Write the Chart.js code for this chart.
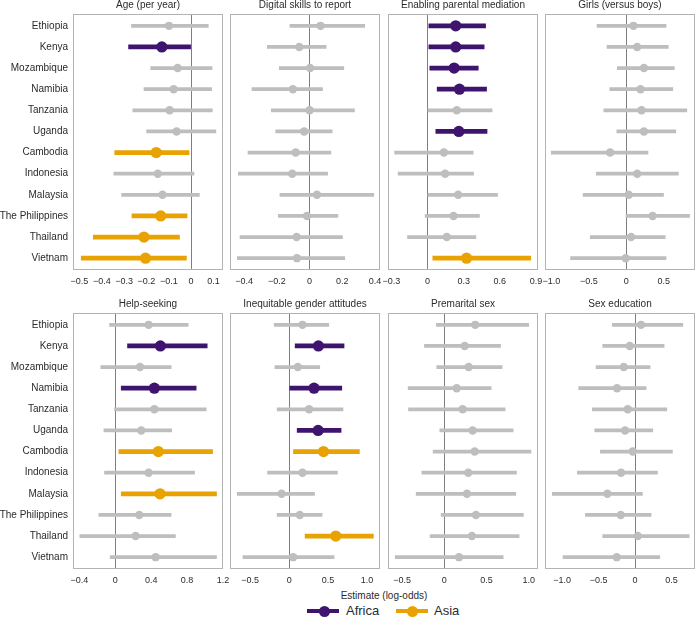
<!DOCTYPE html>
<html>
<head>
<meta charset="utf-8">
<script src="https://cdn.jsdelivr.net/npm/chart.js@4"></script>
<style>
  body { margin: 0; background: #fff; width: 696px; height: 626px; position: relative; overflow: hidden;
         font-family: "Liberation Sans", Arial, sans-serif; color: #2b2b2b; }
  canvas { position: absolute; }
  #xlabel { position: absolute; left: 284px; width: 200px; top: 590px; font-size: 10px; line-height: 12px; text-align: center; }
  .key { position: absolute; top: 609px; width: 32px; height: 4px; }
  .dot { position: absolute; top: 605.5px; width: 11px; height: 11px; border-radius: 50%; }
  .lab { position: absolute; top: 603px; font-size: 13px; line-height: 16px; }
</style>
</head>
<body>
<div id="xlabel">Estimate (log-odds)</div>
<div class="key" style="left:307px;background:#3E146E"></div>
<div class="dot" style="left:318.5px;background:#3E146E"></div>
<div class="lab" style="left:346px">Africa</div>
<div class="key" style="left:396px;background:#E8A202"></div>
<div class="dot" style="left:406.5px;background:#E8A202"></div>
<div class="lab" style="left:434px">Asia</div>

<script>
// Pays et régions
const countries = ['Ethiopia', 'Kenya', 'Mozambique', 'Namibia', 'Tanzania', 'Uganda',
  'Cambodia', 'Indonesia', 'Malaysia', 'The Philippines', 'Thailand', 'Vietnam'];
const regions = ['Africa', 'Africa', 'Africa', 'Africa', 'Africa', 'Africa',
  'Asia', 'Asia', 'Asia', 'Asia', 'Asia', 'Asia'];

// Age (per year)
const ageEst = [-0.099, -0.131, -0.060, -0.078, -0.096, -0.065, -0.156, -0.149, -0.128, -0.136, -0.211, -0.204];
const ageLow = [-0.267, -0.280, -0.181, -0.211, -0.261, -0.199, -0.342, -0.346, -0.311, -0.265, -0.438, -0.492];
const ageHigh = [0.077, 0.000, 0.094, 0.092, 0.095, 0.111, -0.009, 0.013, 0.037, -0.018, -0.052, -0.021];
const ageSig = [0, 1, 0, 0, 0, 0, 1, 0, 0, 1, 1, 1];
const ageTicks = [-0.5, -0.4, -0.3, -0.2, -0.1, 0, 0.1];

// Digital skills to report
const digitalEst = [0.067, -0.063, 0.003, -0.102, 0.000, -0.033, -0.085, -0.106, 0.045, -0.016, -0.079, -0.077];
const digitalLow = [-0.120, -0.258, -0.185, -0.352, -0.234, -0.207, -0.376, -0.435, -0.181, -0.191, -0.425, -0.441];
const digitalHigh = [0.337, 0.101, 0.209, 0.079, 0.274, 0.138, 0.130, 0.110, 0.392, 0.173, 0.201, 0.215];
const digitalSig = [0, 0, 0, 0, 0, 0, 0, 0, 0, 0, 0, 0];
const digitalTicks = [-0.4, -0.2, 0, 0.2, 0.4];

// Enabling parental mediation
const parentalEst = [0.234, 0.234, 0.221, 0.265, 0.243, 0.260, 0.136, 0.146, 0.254, 0.216, 0.160, 0.324];
const parentalLow = [0.011, 0.011, 0.019, 0.080, 0.000, 0.069, -0.273, -0.244, 0.000, -0.020, -0.166, 0.044];
const parentalHigh = [0.482, 0.470, 0.421, 0.490, 0.536, 0.494, 0.379, 0.382, 0.581, 0.431, 0.401, 0.857];
const parentalSig = [1, 1, 1, 1, 0, 1, 0, 0, 0, 0, 0, 1];
const parentalTicks = [-0.3, 0, 0.3, 0.6, 0.9];

// Girls (versus boys)
const girlsEst = [0.095, 0.145, 0.235, 0.190, 0.203, 0.235, -0.216, 0.145, 0.032, 0.351, 0.064, -0.008];
const girlsLow = [-0.390, -0.257, -0.120, -0.220, -0.300, -0.126, -1.000, -0.400, -0.576, -0.004, -0.480, -0.743];
const girlsHigh = [0.530, 0.560, 0.640, 0.620, 0.807, 0.660, 0.289, 0.694, 0.496, 0.843, 0.519, 0.530];
const girlsSig = [0, 0, 0, 0, 0, 0, 0, 0, 0, 0, 0, 0];
const girlsTicks = [-1.0, -0.5, 0, 0.5];

// Help-seeking
const helpEst = [0.372, 0.503, 0.276, 0.436, 0.436, 0.290, 0.480, 0.372, 0.499, 0.268, 0.227, 0.450];
const helpLow = [-0.063, 0.137, -0.160, 0.067, -0.007, -0.126, 0.041, -0.119, 0.067, -0.182, -0.394, -0.056];
const helpHigh = [0.812, 1.024, 0.622, 0.901, 1.013, 0.629, 1.084, 0.883, 1.128, 0.622, 0.670, 1.128];
const helpSig = [0, 1, 0, 1, 0, 0, 1, 0, 1, 0, 0, 0];
const helpTicks = [-0.4, 0, 0.4, 0.8, 1.2];

// Inequitable gender attitudes
const genderEst = [0.171, 0.376, 0.111, 0.320, 0.256, 0.372, 0.441, 0.171, -0.097, 0.137, 0.599, 0.051];
const genderLow = [-0.192, 0.077, -0.183, 0.009, -0.154, 0.103, 0.056, -0.277, -0.667, -0.154, 0.205, -0.594];
const genderHigh = [0.509, 0.705, 0.393, 0.676, 0.692, 0.667, 0.902, 0.620, 0.326, 0.423, 1.082, 0.577];
const genderSig = [0, 1, 0, 1, 0, 1, 1, 0, 0, 0, 1, 0];
const genderTicks = [-0.5, 0, 0.5, 1.0];

// Premarital sex
const premaritalEst = [0.366, 0.241, 0.288, 0.146, 0.217, 0.335, 0.359, 0.283, 0.268, 0.374, 0.327, 0.174];
const premaritalLow = [-0.094, -0.236, -0.090, -0.429, -0.425, -0.054, -0.133, -0.267, -0.334, -0.039, -0.169, -0.582];
const premaritalHigh = [1.000, 0.666, 0.685, 0.555, 0.720, 0.815, 1.027, 0.855, 0.847, 0.937, 0.886, 0.697];
const premaritalSig = [0, 0, 0, 0, 0, 0, 0, 0, 0, 0, 0, 0];
const premaritalTicks = [-0.5, 0, 0.5, 1.0];

// Sex education
const sexEdEst = [0.082, -0.073, -0.155, -0.247, -0.100, -0.137, -0.032, -0.192, -0.379, -0.196, 0.037, -0.251];
const sexEdLow = [-0.311, -0.443, -0.534, -0.772, -0.585, -0.552, -0.475, -0.790, -1.133, -0.680, -0.443, -0.986];
const sexEdHigh = [0.653, 0.397, 0.205, 0.151, 0.434, 0.242, 0.511, 0.306, 0.100, 0.219, 0.740, 0.338];
const sexEdSig = [0, 0, 0, 0, 0, 0, 0, 0, 0, 0, 0, 0];
const sexEdTicks = [-1.0, -0.5, 0, 0.5];

const FONT = '"Liberation Sans", Arial, sans-serif';
const TEXT = '#2b2b2b';
const GREY = '#BEBEBE';
const regionColors = { Africa: '#3E146E', Asia: '#E8A202' };

const panels = [
  { title: 'Age (per year)', est: ageEst, low: ageLow, high: ageHigh, sig: ageSig, ticks: ageTicks, min: -0.529, max: 0.143, row: 0, col: 0 },
  { title: 'Digital skills to report', est: digitalEst, low: digitalLow, high: digitalHigh, sig: digitalSig, ticks: digitalTicks, min: -0.486, max: 0.43, row: 0, col: 1 },
  { title: 'Enabling parental mediation', est: parentalEst, low: parentalLow, high: parentalHigh, sig: parentalSig, ticks: parentalTicks, min: -0.328, max: 0.917, row: 0, col: 2 },
  { title: 'Girls (versus boys)', est: girlsEst, low: girlsLow, high: girlsHigh, sig: girlsSig, ticks: girlsTicks, min: -1.084, max: 0.916, row: 0, col: 3 },
  { title: 'Help-seeking', est: helpEst, low: helpLow, high: helpHigh, sig: helpSig, ticks: helpTicks, min: -0.47, max: 1.2, row: 1, col: 0 },
  { title: 'Inequitable gender attitudes', est: genderEst, low: genderLow, high: genderHigh, sig: genderSig, ticks: genderTicks, min: -0.76, max: 1.167, row: 1, col: 1 },
  { title: 'Premarital sex', est: premaritalEst, low: premaritalLow, high: premaritalHigh, sig: premaritalSig, ticks: premaritalTicks, min: -0.668, max: 1.11, row: 1, col: 2 },
  { title: 'Sex education', est: sexEdEst, low: sexEdLow, high: sexEdHigh, sig: sexEdSig, ticks: sexEdTicks, min: -1.233, max: 0.82, row: 1, col: 3 }
];

// Géométrie des panneaux
const boxX = [73, 230, 388, 545];
const boxY = [14, 313];
const BOX_W = 150, BOX_H = 256, PAD = 12, TOP = 16, XAX = 22, YAX = 73;

// Cadre et titre de chaque panneau
const panelFrame = {
  id: 'panelFrame',
  afterDraw(chart, args, opts) {
    const a = chart.chartArea;
    const ctx = chart.ctx;
    ctx.save();
    ctx.strokeStyle = '#B3B3B3';
    ctx.lineWidth = 1;
    ctx.strokeRect(a.left + 0.5, a.top + 0.5, a.right - a.left - 1, a.bottom - a.top - 1);
    ctx.fillStyle = TEXT;
    ctx.font = '10px ' + FONT;
    ctx.textAlign = 'center';
    ctx.textBaseline = 'middle';
    ctx.fillText(opts.text, (a.left + a.right) / 2, a.top - 9);
    ctx.restore();
  }
};

function fmtTick(v) {
  if (v === 0) return '0';
  return v.toFixed(1).replace('-', '\u2212');
}

function makePanel(p) {
  const first = p.col === 0;
  const width = (first ? YAX : PAD) + BOX_W + PAD;
  const height = TOP + BOX_H + XAX;
  const canvas = document.createElement('canvas');
  canvas.width = width;
  canvas.height = height;
  canvas.style.width = width + 'px';
  canvas.style.height = height + 'px';
  canvas.style.left = (first ? 0 : boxX[p.col] - PAD) + 'px';
  canvas.style.top = (boxY[p.row] - TOP) + 'px';
  document.body.appendChild(canvas);

  const rows = countries.map((c, i) => i);
  const plain = rows.filter(i => !p.sig[i]);
  const marked = rows.filter(i => p.sig[i]);

  new Chart(canvas, {
    type: 'bar',
    data: {
      datasets: [
        { type: 'bar', order: 4, grouped: false, barThickness: 3, backgroundColor: GREY,
          data: plain.map(i => ({ x: [p.low[i], p.high[i]], y: i + 1 })) },
        { type: 'scatter', order: 3, pointRadius: 4.2, pointBorderWidth: 0, backgroundColor: GREY,
          data: plain.map(i => ({ x: p.est[i], y: i + 1 })) },
        { type: 'bar', order: 2, grouped: false, barThickness: 4,
          backgroundColor: marked.map(i => regionColors[regions[i]]),
          data: marked.map(i => ({ x: [p.low[i], p.high[i]], y: i + 1 })) },
        { type: 'scatter', order: 1, pointRadius: 5.6, pointBorderWidth: 0,
          backgroundColor: marked.map(i => regionColors[regions[i]]),
          data: marked.map(i => ({ x: p.est[i], y: i + 1 })) }
      ]
    },
    options: {
      indexAxis: 'y',
      responsive: false,
      animation: false,
      events: [],
      layout: { padding: { left: first ? 0 : PAD, right: PAD, top: TOP, bottom: 0 } },
      plugins: {
        legend: { display: false },
        tooltip: { enabled: false },
        panelFrame: { text: p.title }
      },
      scales: {
        x: {
          type: 'linear', min: p.min, max: p.max, offset: false,
          afterBuildTicks: s => { s.ticks = p.ticks.map(v => ({ value: v })); },
          afterFit: s => { s.height = XAX; s.paddingLeft = 0; s.paddingRight = 0; },
          grid: { drawTicks: false, lineWidth: 1, offset: false,
                  color: c => (c.tick && c.tick.value === 0) ? '#7F7F7F' : 'rgba(0,0,0,0)' },
          border: { display: false },
          ticks: { autoSkip: false, maxRotation: 0, padding: 6, color: TEXT,
                   font: { size: 9, family: FONT }, callback: v => fmtTick(v) }
        },
        y: {
          type: 'linear', reverse: true, min: 0.44, max: 12.56, offset: false, grace: 0,
          display: first,
          afterBuildTicks: s => { s.ticks = rows.map(i => ({ value: i + 1 })); },
          afterFit: s => { s.width = first ? YAX : 0; s.paddingTop = 0; s.paddingBottom = 0; },
          grid: { display: false, drawTicks: false, offset: false },
          border: { display: false },
          ticks: { autoSkip: false, padding: 5, color: TEXT,
                   font: { size: 10, family: FONT }, callback: v => countries[v - 1] }
        }
      }
    },
    plugins: [panelFrame]
  });
}

panels.forEach(makePanel);
</script>
</body>
</html>
